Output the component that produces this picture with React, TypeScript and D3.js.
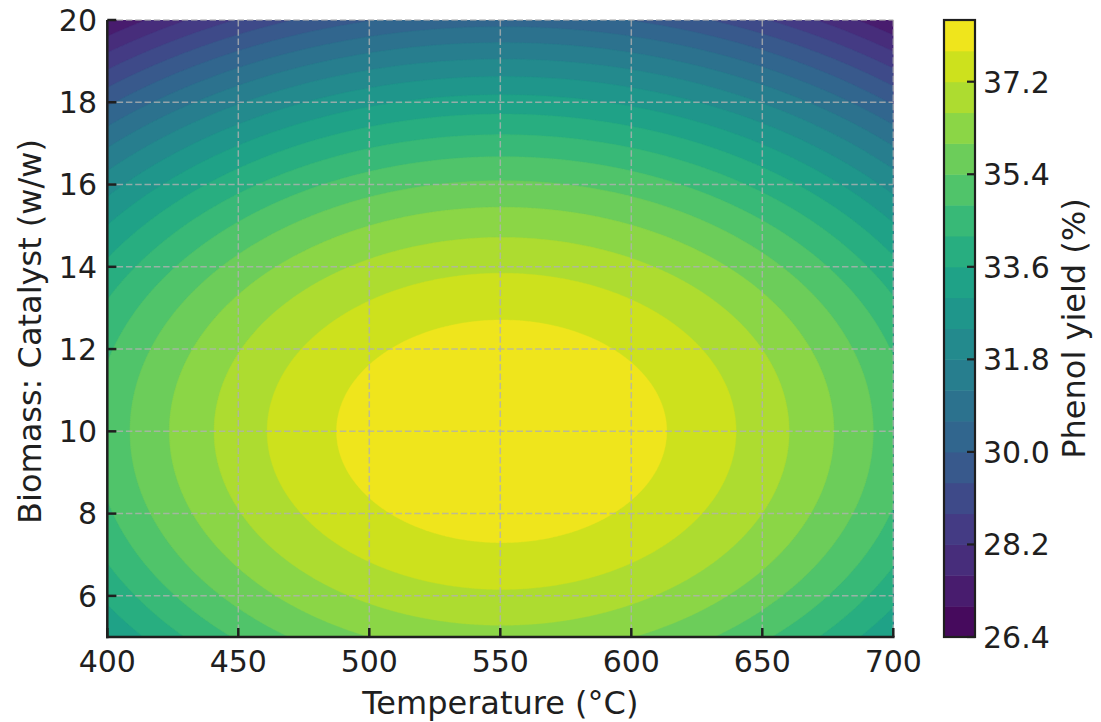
import React, { useMemo } from 'react';
import * as d3 from 'd3';

// ---- data ----
const xTicks = [400, 450, 500, 550, 600, 650, 700];
const yTicks = [6, 8, 10, 12, 14, 16, 18, 20];
const colorbarTicks = [26.4, 28.2, 30.0, 31.8, 33.6, 35.4, 37.2];
const contourLevels = [
  26.4, 27.0, 27.6, 28.2, 28.8, 29.4, 30.0, 30.6, 31.2, 31.8, 32.4,
  33.0, 33.6, 34.2, 34.8, 35.4, 36.0, 36.6, 37.2, 37.8, 38.4,
];
const tempDomain = [400, 700];
const ratioDomain = [5, 20];
// quadratic response surface
const optimumTemp = 550.5;
const optimumRatio = 10.0;
const maxYield = 38.39;
const tempCurvature = 1.4855e-4;
const ratioCurvature = 0.0805;

const W = 1101;
const H = 722;
const plot = { left: 107.3, right: 893.3, top: 20, bottom: 637 };
const cbar = { left: 944, right: 975 };
const FONT = 'DejaVu Sans';
const FS = 30;
const LFS = 32;
const INK = '#1f1f1f';

const NX = 600;
const NY = 300;

function phenolYield(t: number, r: number) {
  return (
    maxYield -
    tempCurvature * (t - optimumTemp) ** 2 -
    ratioCurvature * (r - optimumRatio) ** 2
  );
}

export default function App() {
  const x = d3.scaleLinear().domain(tempDomain).range([plot.left, plot.right]);
  const y = d3.scaleLinear().domain(ratioDomain).range([plot.bottom, plot.top]);
  const lo = contourLevels[0];
  const hi = contourLevels[contourLevels.length - 1];
  const cy = d3.scaleLinear().domain([lo, hi]).range([plot.bottom, plot.top]);
  const bandColor = (i: number) => {
    const mid = (contourLevels[i] + contourLevels[i + 1]) / 2;
    return d3.interpolateViridis((mid - lo) / (hi - lo));
  };

  const paths = useMemo(() => {
    const values = new Float64Array(NX * NY);
    const dt = (tempDomain[1] - tempDomain[0]) / NX;
    const dr = (ratioDomain[1] - ratioDomain[0]) / NY;
    for (let j = 0; j < NY; j++) {
      const r = ratioDomain[0] + (j + 0.5) * dr;
      for (let i = 0; i < NX; i++) {
        const t = tempDomain[0] + (i + 0.5) * dt;
        values[j * NX + i] = phenolYield(t, r);
      }
    }
    const thresholds = contourLevels.slice(0, -1);
    const cs = d3.contours().size([NX, NY]).thresholds(thresholds)(values as any);
    const proj = d3.geoTransform({
      point(px: number, py: number) {
        (this as any).stream.point(
          x(tempDomain[0] + px * dt),
          y(ratioDomain[0] + py * dr)
        );
      },
    });
    const gp = d3.geoPath(proj);
    return cs.map((c, i) => ({ d: gp(c as any) || '', fill: bandColor(i) }));
  }, []);

  const gridStyle = {
    stroke: '#b0b0b0',
    strokeOpacity: 0.8,
    strokeWidth: 1.5,
    strokeDasharray: '6.5 2.8',
  };

  return (
    <svg
      width={W}
      height={H}
      style={{ position: 'absolute', left: 0, top: 0, background: '#fff' }}
      fontFamily={FONT}
    >
      <defs>
        <clipPath id="plotClip">
          <rect
            x={plot.left}
            y={plot.top}
            width={plot.right - plot.left}
            height={plot.bottom - plot.top}
          />
        </clipPath>
      </defs>
      <g clipPath="url(#plotClip)">
        {paths.map((p, i) => (
          <path key={i} d={p.d} fill={p.fill} stroke={p.fill} strokeWidth={0.4} />
        ))}
      </g>
      {/* grid */}
      <g>
        {xTicks.map((t) => (
          <line key={'gx' + t} x1={x(t)} x2={x(t)} y1={plot.top} y2={plot.bottom} {...gridStyle} />
        ))}
        {yTicks.map((t) => (
          <line key={'gy' + t} x1={plot.left} x2={plot.right} y1={y(t)} y2={y(t)} {...gridStyle} />
        ))}
      </g>
      {/* spines */}
      <line x1={plot.left} x2={plot.left} y1={plot.top} y2={plot.bottom + 1.25} stroke={INK} strokeWidth={2.5} />
      <line x1={plot.left - 1.25} x2={plot.right + 1.25} y1={plot.bottom} y2={plot.bottom} stroke={INK} strokeWidth={2.5} />
      {/* x ticks */}
      {xTicks.map((t) => (
        <g key={'xt' + t}>
          <line x1={x(t)} x2={x(t)} y1={plot.bottom} y2={plot.bottom - 9} stroke={INK} strokeWidth={2.5} />
          <text x={x(t)} y={672} textAnchor="middle" fontSize={FS} fill={INK}>
            {t}
          </text>
        </g>
      ))}
      {/* y ticks */}
      {yTicks.map((t) => (
        <g key={'yt' + t}>
          <line x1={plot.left} x2={plot.left + 9} y1={y(t)} y2={y(t)} stroke={INK} strokeWidth={2.5} />
          <text x={97} y={y(t) + 10.8} textAnchor="end" fontSize={FS} fill={INK}>
            {t}
          </text>
        </g>
      ))}
      <text x={(plot.left + plot.right) / 2} y={714} textAnchor="middle" fontSize={LFS} fill={INK}>
        Temperature (°C)
      </text>
      <text
        transform={`translate(41, ${(plot.top + plot.bottom) / 2 + 3}) rotate(-90)`}
        textAnchor="middle"
        fontSize={LFS}
        fill={INK}
      >
        Biomass: Catalyst (w/w)
      </text>
      {/* colorbar */}
      {contourLevels.slice(0, -1).map((l, i) => (
        <rect
          key={'cb' + i}
          x={cbar.left}
          width={cbar.right - cbar.left}
          y={cy(contourLevels[i + 1])}
          height={cy(l) - cy(contourLevels[i + 1]) + 0.5}
          fill={bandColor(i)}
        />
      ))}
      <rect
        x={cbar.left}
        y={plot.top}
        width={cbar.right - cbar.left}
        height={plot.bottom - plot.top}
        fill="none"
        stroke={INK}
        strokeWidth={2.2}
      />
      {colorbarTicks.map((t) => (
        <g key={'ct' + t}>
          <line x1={cbar.right} x2={cbar.right - 8} y1={cy(t)} y2={cy(t)} stroke={INK} strokeWidth={2.2} />
          <text x={983} y={cy(t) + 10.8} textAnchor="start" fontSize={FS} fill={INK}>
            {t.toFixed(1)}
          </text>
        </g>
      ))}
      <text
        transform={`translate(1085, ${(plot.top + plot.bottom) / 2}) rotate(-90)`}
        textAnchor="middle"
        fontSize={LFS}
        fill={INK}
      >
        Phenol yield (%)
      </text>
    </svg>
  );
}
